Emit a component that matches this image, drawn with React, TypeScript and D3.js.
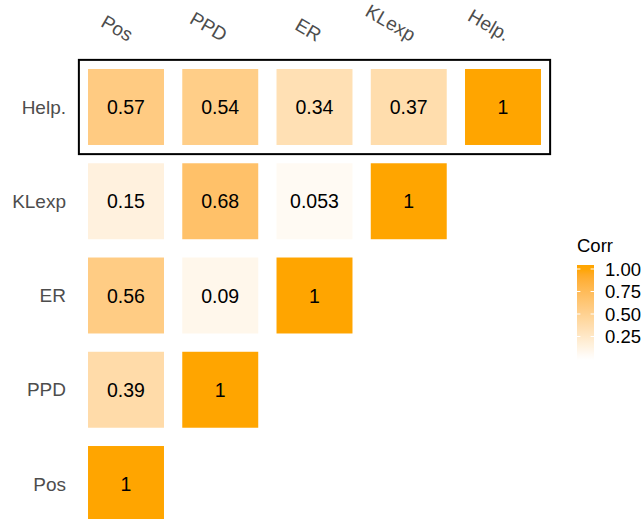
import React from "react";
import * as d3 from "d3";

const columns = ["Pos", "PPD", "ER", "KLexp", "Help."];
const rows = ["Help.", "KLexp", "ER", "PPD", "Pos"];
// correlation values per row (lower triangle), in column order
const rowHelp = [0.57, 0.54, 0.34, 0.37, 1];
const rowKLexp = [0.15, 0.68, 0.053, 1];
const rowER = [0.56, 0.09, 1];
const rowPPD = [0.39, 1];
const rowPos = [1];
const rowValues = [rowHelp, rowKLexp, rowER, rowPPD, rowPos];
const legendTicks = [0.25, 0.5, 0.75, 1.0];
const highlightRow = "Help.";

const W = 644;
const H = 519;
const FONT = "'Liberation Sans', Arial, Helvetica, sans-serif";

export default function App() {
  const x = d3.scalePoint<string>().domain(columns).range([126, 503]);
  const y = d3.scalePoint<string>().domain(rows).range([107, 484]);
  const step = x.step();
  const cell = step * 0.806;
  const color = d3
    .scaleLinear<string>()
    .domain([0, 1])
    .range(["white", "orange"])
    .interpolate(d3.interpolateLab);

  const cells: { r: string; c: string; v: number }[] = [];
  rows.forEach((r, i) => {
    rowValues[i].forEach((v, j) => cells.push({ r, c: columns[j], v }));
  });

  const legY = d3.scaleLinear().domain([0, 1]).range([359, 269]);
  const barX = 577;
  const barW = 17;
  const barTop = 265;
  const barBottom = 360;
  const stops = d3.range(0, 1.0001, 0.05);

  const fmt = (v: number) => String(v);

  return (
    <svg
      width={W}
      height={H}
      style={{ position: "absolute", left: 0, top: 0, background: "white" }}
      fontFamily={FONT}
    >
      <defs>
        <linearGradient id="corrGrad" x1="0" y1="1" x2="0" y2="0">
          {stops.map((s) => {
            const v = legY.invert(barBottom - s * (barBottom - barTop));
            return (
              <stop
                key={s}
                offset={s}
                stopColor={color(Math.max(0, Math.min(1, v)))}
              />
            );
          })}
        </linearGradient>
      </defs>

      {cells.map((d) => (
        <g key={d.r + d.c}>
          <rect
            x={(x(d.c) as number) - cell / 2}
            y={(y(d.r) as number) - cell / 2}
            width={cell}
            height={cell}
            fill={color(d.v)}
          />
          <text
            x={x(d.c) as number}
            y={y(d.r) as number}
            textAnchor="middle"
            dominantBaseline="central"
            fontSize={19.5}
            fill="#000"
          >
            {fmt(d.v)}
          </text>
        </g>
      ))}

      <rect
        x={(x(columns[0]) as number) - step / 2}
        y={(y(highlightRow) as number) - step / 2}
        width={(x(columns[columns.length - 1]) as number) - (x(columns[0]) as number) + step}
        height={step}
        fill="none"
        stroke="#000"
        strokeWidth={2}
      />

      {rows.map((r) => (
        <text
          key={"rl" + r}
          x={66}
          y={y(r) as number}
          textAnchor="end"
          dominantBaseline="central"
          fontSize={19}
          fill="#4d4d4d"
        >
          {r}
        </text>
      ))}

      {columns.map((c) => (
        <text
          key={"cl" + c}
          transform={`translate(${(x(c) as number) + 2},${42}) rotate(30)`}
          textAnchor="end"
          fontSize={19}
          fill="#4d4d4d"
        >
          {c}
        </text>
      ))}

      <text x={barX} y={252} fontSize={18.5} fill="#000">
        Corr
      </text>
      <rect x={barX} y={barTop} width={barW} height={barBottom - barTop} fill="url(#corrGrad)" />
      {legendTicks.map((t) => (
        <g key={"lt" + t}>
          <line x1={barX} x2={barX + 3.4} y1={legY(t)} y2={legY(t)} stroke="white" strokeWidth={1} />
          <line x1={barX + barW - 3.4} x2={barX + barW} y1={legY(t)} y2={legY(t)} stroke="white" strokeWidth={1} />
          <text
            x={barX + barW + 11}
            y={legY(t)}
            dominantBaseline="central"
            fontSize={18.5}
            fill="#000"
          >
            {t.toFixed(2)}
          </text>
        </g>
      ))}
    </svg>
  );
}
